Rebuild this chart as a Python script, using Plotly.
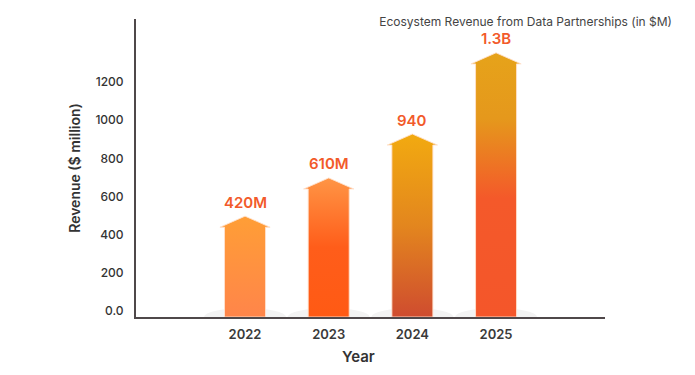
import plotly.graph_objects as go

years = ["2022", "2023", "2024", "2025"]
shaft_values = [440, 640, 870, 1295]          # height of arrow shaft ($ million)
head_height = 58                                # arrow head height ($ million)
value_labels = ["420M", "610M", "940", "1.3B"]
y_ticks = [0, 200, 400, 600, 800, 1000, 1200]
y_tick_labels = ["0.0", "200", "400", "600", "800", "1000", "1200"]
gradients = [
    [[0, "#FF854A"], [1, "#FF9E36"]],
    [[0, "#FF5A14"], [0.5, "#FF5D1A"], [1, "#FF9545"]],
    [[0, "#CF4C2F"], [0.5, "#E3861E"], [1, "#F2AA10"]],
    [[0, "#F4562A"], [0.45, "#F4592A"], [0.75, "#E5981C"], [1, "#E6A31A"]],
]

SHAFT_HW = 0.245
HEAD_HW = 0.30
Y_MIN = -30

fig = go.Figure()
shapes = []
annotations = []
for i, (yr, v, lab, grad) in enumerate(zip(years, shaft_values, value_labels, gradients)):
    tip = v + head_height
    xs = [i - SHAFT_HW, i - SHAFT_HW, i - HEAD_HW, i, i + HEAD_HW, i + SHAFT_HW, i + SHAFT_HW, i - SHAFT_HW]
    ys = [Y_MIN, v, v, tip, v, v, Y_MIN, Y_MIN]
    fig.add_trace(go.Scatter(
        x=xs, y=ys, mode="lines", fill="toself",
        fillgradient=dict(type="vertical", colorscale=grad),
        line=dict(color="rgba(255,225,205,0.9)", width=1),
        hoverinfo="skip", showlegend=False, cliponaxis=True,
    ))
    shapes.append(dict(type="circle", xref="x", yref="y", layer="below",
                       x0=i - 0.49, x1=i + 0.49, y0=Y_MIN - 47, y1=Y_MIN + 47,
                       fillcolor="#F3F3F3", line=dict(width=0)))
    annotations.append(dict(x=i, y=tip, xref="x", yref="y", text=lab, showarrow=False,
                            yanchor="middle", yshift=14,
                            font=dict(family="Inter", size=15, color="#F25A2A", weight=600)))

annotations.append(dict(x=(358 - 136) / 469, y=(317 - 356) / 298, xref="paper", yref="paper",
                        text="Year", showarrow=False, xanchor="center", yanchor="middle",
                        font=dict(family="Inter", size=15, color="#333333", weight=600)))

fig.update_layout(
    width=695, height=375,
    margin=dict(l=136, r=90, t=19, b=58),
    paper_bgcolor="white", plot_bgcolor="white",
    shapes=shapes, annotations=annotations,
    title=dict(text="Ecosystem Revenue from Data Partnerships (in $M)",
               xref="container", yref="container", x=672 / 695, y=1 - 22 / 375,
               xanchor="right", yanchor="middle",
               font=dict(family="Inter", size=12, color="#444444")),
    xaxis=dict(range=[-1.303, 4.302], tickvals=list(range(len(years))), ticktext=years,
               showgrid=False, zeroline=False, showline=True, linecolor="#4F484A", linewidth=2,
               ticks="", ticklabelstandoff=4,
               tickfont=dict(family="Inter", size=13, color="#3A3A3A", weight=600)),
    yaxis=dict(range=[Y_MIN, 1530], tickvals=y_ticks, ticktext=y_tick_labels,
               showgrid=False, zeroline=False, showline=True, linecolor="#4F484A", linewidth=2,
               ticks="", ticklabelstandoff=8,
               title=dict(text="Revenue ($ million)", standoff=11,
                          font=dict(family="Inter", size=14, color="#333333", weight=600)),
               tickfont=dict(family="Inter", size=12, color="#333333", weight=500)),
)

fig.write_html("out.html", config={"displayModeBar": False},
               post_script="document.body.style.margin='0';")
